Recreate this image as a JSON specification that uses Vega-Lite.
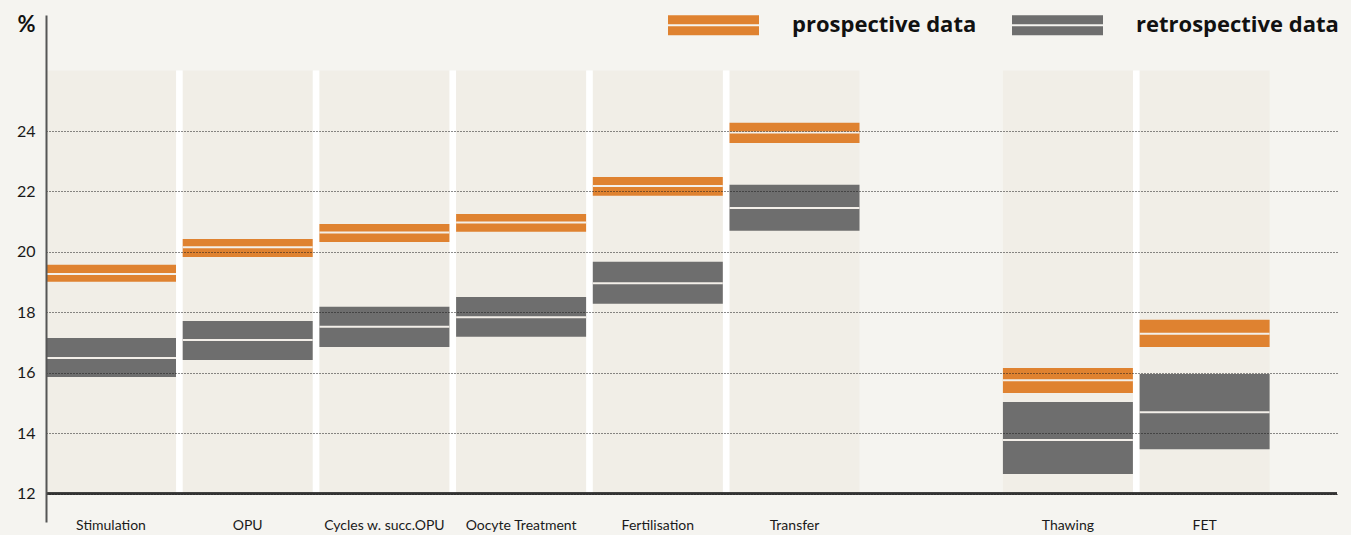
{
  "$schema": "https://vega.github.io/schema/vega-lite/v6.json",
  "width": 1291,
  "height": 507,
  "autosize": "none",
  "padding": {"left": 46, "top": 15, "right": 14, "bottom": 13},
  "background": "#f5f4f0",
  "config": {
    "view": {"stroke": null},
    "font": "Lato"
  },
  "datasets": {
    "steps": [
      {"step": "Stimulation"},
      {"step": "OPU"},
      {"step": "Cycles w. succ.OPU"},
      {"step": "Oocyte Treatment"},
      {"step": "Fertilisation"},
      {"step": "Transfer"},
      {"step": "Thawing"},
      {"step": "FET"}
    ],
    "ranges": [
      {"step": "Stimulation", "series": "prospective data", "low": 19.01, "high": 19.57, "mid": 19.27},
      {"step": "Stimulation", "series": "retrospective data", "low": 15.86, "high": 17.15, "mid": 16.49},
      {"step": "OPU", "series": "prospective data", "low": 19.83, "high": 20.43, "mid": 20.15},
      {"step": "OPU", "series": "retrospective data", "low": 16.42, "high": 17.71, "mid": 17.08},
      {"step": "Cycles w. succ.OPU", "series": "prospective data", "low": 20.33, "high": 20.92, "mid": 20.64},
      {"step": "Cycles w. succ.OPU", "series": "retrospective data", "low": 16.85, "high": 18.18, "mid": 17.52},
      {"step": "Oocyte Treatment", "series": "prospective data", "low": 20.67, "high": 21.25, "mid": 20.97},
      {"step": "Oocyte Treatment", "series": "retrospective data", "low": 17.19, "high": 18.51, "mid": 17.84},
      {"step": "Fertilisation", "series": "prospective data", "low": 21.86, "high": 22.48, "mid": 22.18},
      {"step": "Fertilisation", "series": "retrospective data", "low": 18.28, "high": 19.67, "mid": 18.96},
      {"step": "Transfer", "series": "prospective data", "low": 23.6, "high": 24.27, "mid": 23.95},
      {"step": "Transfer", "series": "retrospective data", "low": 20.7, "high": 22.22, "mid": 21.45},
      {"step": "Thawing", "series": "prospective data", "low": 15.33, "high": 16.16, "mid": 15.75},
      {"step": "Thawing", "series": "retrospective data", "low": 12.65, "high": 15.03, "mid": 13.77},
      {"step": "FET", "series": "prospective data", "low": 16.85, "high": 17.75, "mid": 17.29},
      {"step": "FET", "series": "retrospective data", "low": 13.47, "high": 15.96, "mid": 14.69}
    ]
  },
  "encoding": {
    "x": {
      "field": "step",
      "type": "nominal",
      "scale": {
        "domain": ["Stimulation", "OPU", "Cycles w. succ.OPU", "Oocyte Treatment", "Fertilisation", "Transfer", " ", "Thawing", "FET"],
        "paddingInner": 0.049,
        "paddingOuter": 0.2465,
        "align": 0,
        "round": false
      },
      "axis": {
        "title": null,
        "domain": false,
        "ticks": false,
        "grid": false,
        "labelAngle": 0,
        "labelBaseline": "middle",
        "labelPadding": 3,
        "labelFontSize": 14,
        "labelColor": "#1a1a1a",
        "labelFont": "Lato",
        "labelLimit": 200
      }
    }
  },
  "layer": [
    {
      "data": {"name": "steps"},
      "mark": {"type": "bar", "color": "#f1eee7"},
      "encoding": {
        "y": {"datum": 26, "type": "quantitative", "scale": {"domain": [11.06, 27.84], "nice": false, "zero": false}},
        "y2": {"datum": 12}
      }
    },
    {
      "data": {"name": "steps"},
      "transform": [{"filter": "datum.step != 'Transfer' && datum.step != 'FET'"}],
      "mark": {"type": "rule", "color": "#ffffff", "strokeWidth": 6.5},
      "encoding": {
        "x": {"field": "step", "type": "nominal", "bandPosition": 1.0258},
        "y": {"datum": 26, "type": "quantitative"},
        "y2": {"datum": 12}
      }
    },
    {
      "data": {"name": "ranges"},
      "mark": {"type": "bar"},
      "encoding": {
        "y": {
          "field": "low",
          "type": "quantitative",
          "axis": {
            "values": [12, 14, 16, 18, 20, 22, 24],
            "grid": true,
            "gridDash": [1, 2],
            "gridColor": "#1a1a1a",
            "gridWidth": 1,
            "domain": true,
            "domainColor": "#555555",
            "domainWidth": 2,
            "ticks": false,
            "labelPadding": 11,
            "labelFontSize": 16,
            "labelColor": "#1a1a1a",
            "labelFont": "Lato",
            "zindex": 1,
            "title": "%",
            "titleAngle": 0,
            "titleAlign": "right",
            "titleBaseline": "top",
            "titleX": -11,
            "titleY": -1,
            "titleFontSize": 22,
            "titleFontWeight": "bold",
            "titleFont": "Lato",
            "titleColor": "#111111"
          }
        },
        "y2": {"field": "high"},
        "color": {
          "field": "series",
          "type": "nominal",
          "scale": {"domain": ["prospective data", "retrospective data"], "range": ["#df8230", "#6e6e6e"]},
          "legend": {
            "title": null,
            "orient": "none",
            "legendX": 622,
            "legendY": -35.5,
            "direction": "horizontal",
            "padding": 0,
            "symbolType": "M-1,-0.22H1V-0.022H-1Z M-1,0.022H1V0.22H-1Z",
            "symbolSize": 8281,
            "symbolStrokeWidth": 0,
            "symbolOpacity": 1,
            "labelFontSize": 22,
            "labelFontWeight": "bold",
            "labelFont": "Open Sans",
            "labelColor": "#111111",
            "labelOffset": 33,
            "columnPadding": 35,
            "gridAlign": "each",
            "labelLimit": 300
          }
        }
      }
    },
    {
      "data": {"name": "ranges"},
      "mark": {"type": "tick", "orient": "horizontal", "thickness": 2, "size": 130, "color": "#f3efe9", "opacity": 1},
      "encoding": {
        "y": {"field": "mid", "type": "quantitative"}
      }
    },
    {
      "data": {"name": "steps"},
      "mark": {"type": "rule", "color": "#333333", "strokeWidth": 1.5},
      "encoding": {
        "x": null,
        "y": {"datum": 12, "type": "quantitative"}
      }
    }
  ]
}
